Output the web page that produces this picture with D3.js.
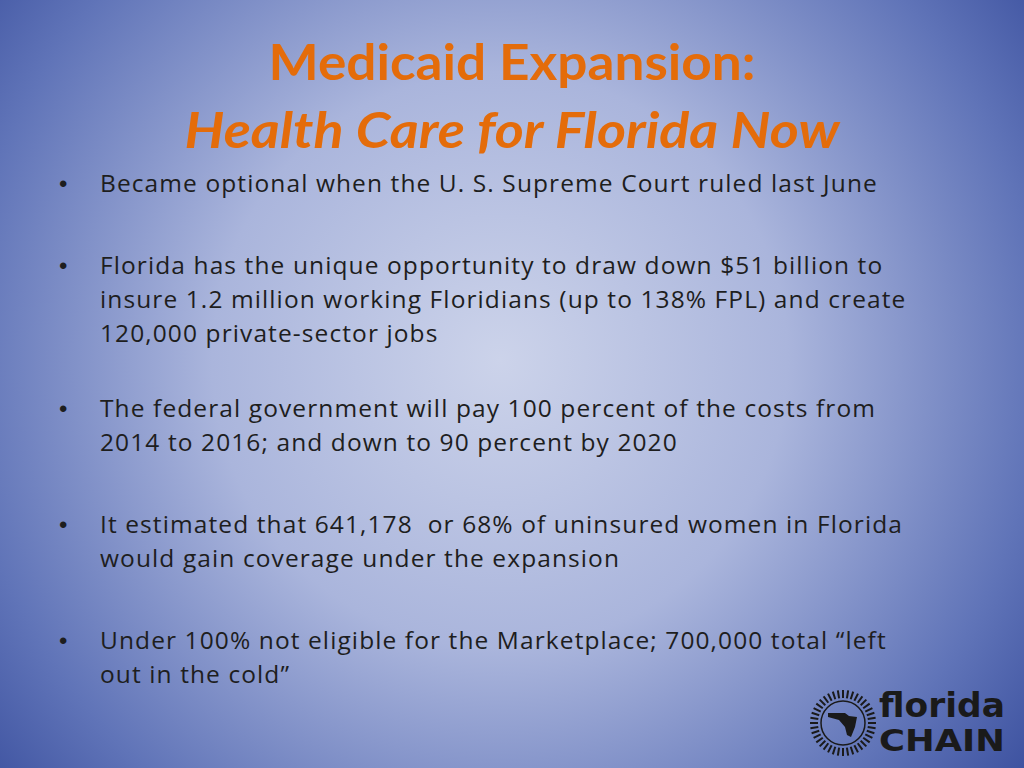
<!DOCTYPE html>
<html><head><meta charset="utf-8">
<script src="https://cdn.jsdelivr.net/npm/d3@7/dist/d3.min.js"></script>
<style>body{margin:0;overflow:hidden} text{white-space:pre}</style>
</head><body>
<script>
const titleLines = ["Medicaid Expansion:", "Health Care for Florida Now"];
const bullets = [
  ["Became optional when the U. S. Supreme Court ruled last June"],
  ["Florida has the unique opportunity to draw down $51 billion to", "insure 1.2 million working Floridians (up to 138% FPL) and create", "120,000 private-sector jobs"],
  ["The federal government will pay 100 percent of the costs from", "2014 to 2016; and down to 90 percent by 2020"],
  ["It estimated that 641,178  or 68% of uninsured women in Florida", "would gain coverage under the expansion"],
  ["Under 100% not eligible for the Marketplace; 700,000 total \u201cleft", "out in the cold\u201d"]
];
const bulletTops = [192, 274, 417, 533, 649];
const logoWords = ["florida", "CHAIN"];

const W = 1024, H = 768;
const svg = d3.select("body").append("svg").attr("width", W).attr("height", H);
const defs = svg.append("defs");
const g = defs.append("radialGradient").attr("id","bg").attr("gradientUnits","userSpaceOnUse")
  .attr("cx",500).attr("cy",360).attr("r",720);
g.append("stop").attr("offset","0").attr("stop-color","#ccd3ea");
g.append("stop").attr("offset","0.4").attr("stop-color","#aab5dc");
g.append("stop").attr("offset","0.75").attr("stop-color","#6074b8");
g.append("stop").attr("offset","1").attr("stop-color","#2f4496");
svg.append("rect").attr("width",W).attr("height",H).attr("fill","url(#bg)");

const font = "'Open Sans', Lato, sans-serif";
svg.selectAll("text.title").data(titleLines).join("text")
  .attr("x",512).attr("y",(d,i)=>[80,148][i]).attr("text-anchor","middle")
  .attr("font-family","Lato, sans-serif").attr("font-weight","bold").attr("font-size",50)
  .attr("font-style",(d,i)=>i?"italic":"normal")
  .attr("textLength",(d,i)=>[487,655][i]).attr("lengthAdjust","spacingAndGlyphs")
  .attr("fill","#e46c0a").text(d=>d);

bullets.forEach((lines,bi)=>{
  svg.append("text").attr("x",59).attr("y",bulletTops[bi]).attr("font-family","Arial")
    .attr("font-size",24).attr("fill","#1e1e1e").text("\u2022");
  lines.forEach((l,li)=>{
    svg.append("text").attr("x",100).attr("y",bulletTops[bi]+li*34)
      .attr("font-family",font).attr("font-size",24.5).attr("letter-spacing",1.1)
      .attr("fill","#1e1e1e").text(l);
  });
});

// logo
const lg = svg.append("g").attr("transform","translate(843,723)");
const ticks = d3.range(0,360,9);
lg.selectAll("line").data(ticks).join("line")
  .attr("x1",d=>25*Math.cos(d*Math.PI/180)).attr("y1",d=>25*Math.sin(d*Math.PI/180))
  .attr("x2",d=>33*Math.cos(d*Math.PI/180)).attr("y2",d=>33*Math.sin(d*Math.PI/180))
  .attr("stroke","#1a1a1a").attr("stroke-width",2);
lg.append("circle").attr("r",22).attr("fill","none").attr("stroke","#1a1a1a").attr("stroke-width",1.5);
lg.append("path").attr("d","M-15,-10 L2,-10 L6,-7 L14,-6 L12,4 L8,14 L4,12 L2,4 L-4,-3 L-15,-6 Z").attr("fill","#1a1a1a");
lg.selectAll("text").data(logoWords).join("text")
  .attr("x",36).attr("y",(d,i)=>[-6,28][i]).attr("font-family","'DejaVu Sans', sans-serif")
  .attr("font-weight","bold").attr("font-size",(d,i)=>[34,30][i])
  .attr("textLength",126).attr("lengthAdjust","spacingAndGlyphs")
  .attr("fill","#1a1a1a").text(d=>d);
</script>
</body></html>
